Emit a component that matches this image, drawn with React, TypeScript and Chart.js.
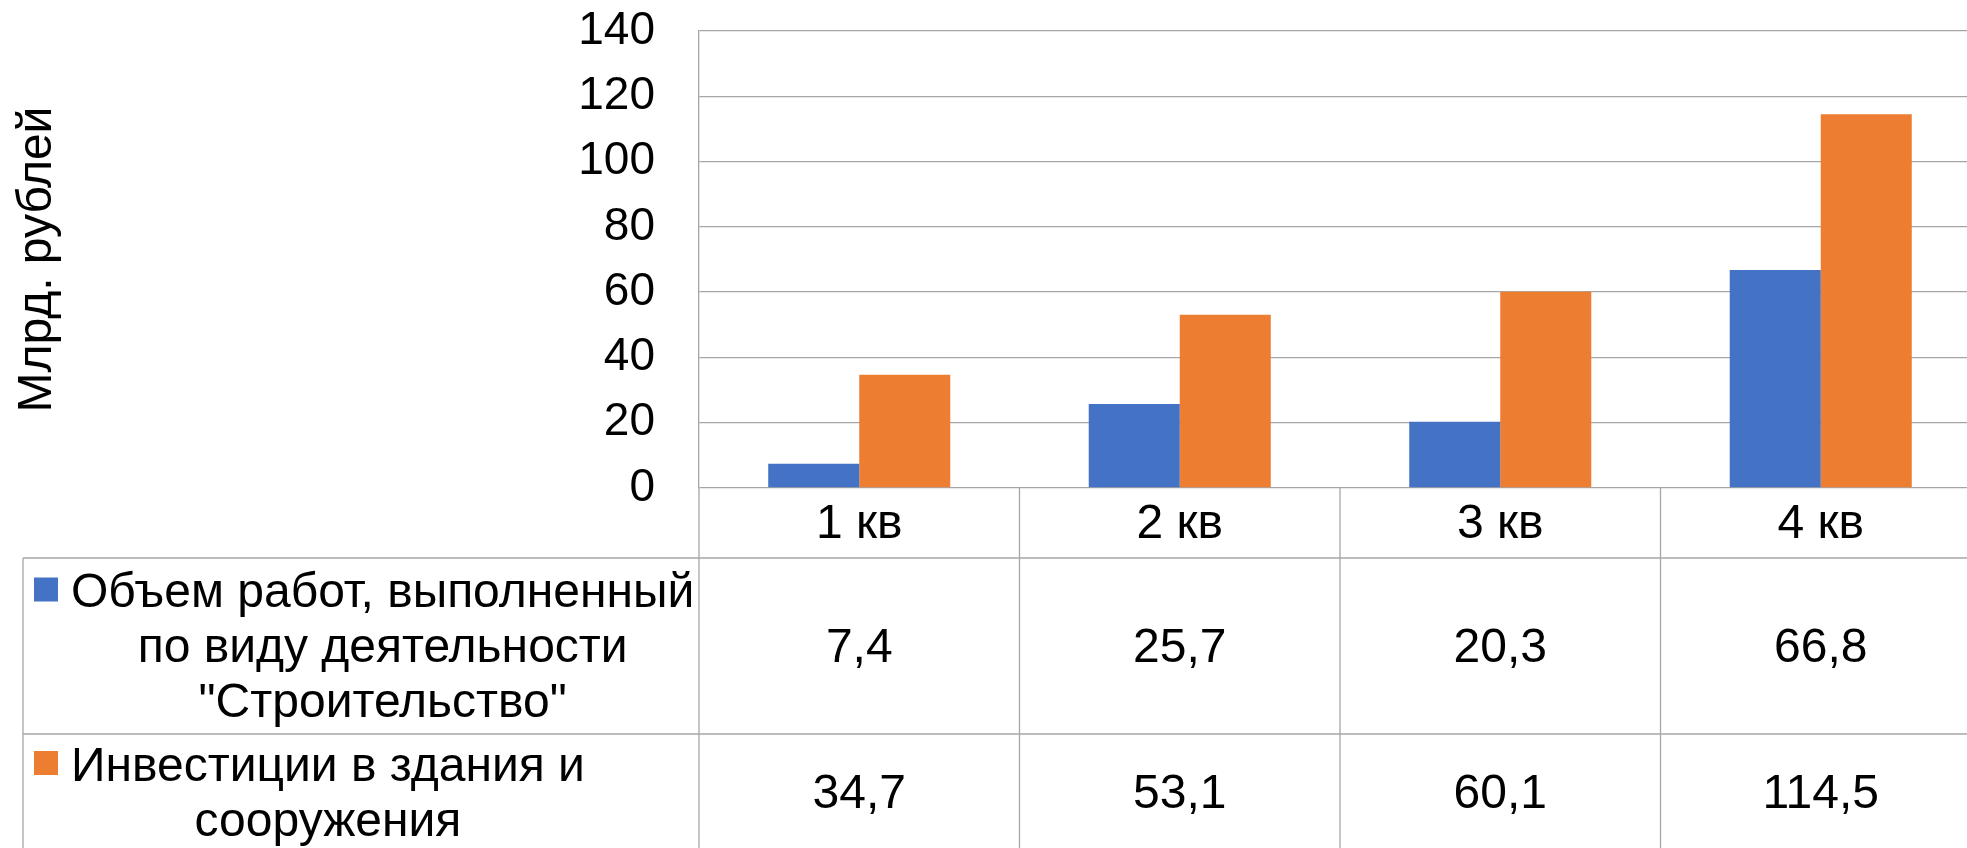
import React, { useEffect, useRef } from "react";
import { Chart, registerables } from "chart.js";

Chart.register(...registerables);

// ---- data ----
const categories = ["1 кв", "2 кв", "3 кв", "4 кв"];
const seriesNames = [
  'Объем работ, выполненный по виду деятельности "Строительство"',
  "Инвестиции в здания и сооружения",
];
const seriesLabelLines = [
  ["Объем работ, выполненный", "по виду деятельности", '"Строительство"'],
  ["Инвестиции в здания и", "сооружения"],
];
const worksVolume = [7.4, 25.7, 20.3, 66.8];
const investments = [34.7, 53.1, 60.1, 114.5];
const seriesColors = ["#4472C4", "#ED7D31"];
const yAxisTitle = "Млрд. рублей";
const yMin = 0;
const yMax = 140;
const yStep = 20;

const FONT = "'Liberation Sans', Arial, sans-serif";
const GRID = "#a6a6a6";

const formatValue = (v: number) => v.toFixed(1).replace(".", ",");

const tablePlugin = {
  id: "dataTable",
  afterDraw(chart: any) {
    const { ctx } = chart;
    const xs = chart.scales.x;
    const ys = chart.scales.y;
    const n = categories.length;
    const step = xs.getPixelForValue(1) - xs.getPixelForValue(0);
    const zeroY = ys.getPixelForValue(0);
    const bottom = chart.height;
    const catRowBottom = zeroY + 70;
    const rowHeights = [176, 116];
    const tableLeft = 23;
    const right = chart.width;
    const series = [worksVolume, investments];

    ctx.save();
    ctx.strokeStyle = GRID;
    ctx.lineWidth = 1.3;
    for (let i = 0; i <= n; i++) {
      const bx = xs.getPixelForValue(i) - step / 2;
      ctx.beginPath();
      ctx.moveTo(bx, zeroY);
      ctx.lineTo(bx, bottom);
      ctx.stroke();
    }
    ctx.beginPath();
    ctx.moveTo(tableLeft, catRowBottom);
    ctx.lineTo(tableLeft, bottom);
    ctx.stroke();
    let yTop = catRowBottom;
    const rowCenters: number[] = [];
    for (let r = 0; r < rowHeights.length; r++) {
      ctx.beginPath();
      ctx.moveTo(tableLeft, yTop);
      ctx.lineTo(right, yTop);
      ctx.stroke();
      rowCenters.push(yTop + rowHeights[r] / 2);
      yTop += rowHeights[r];
    }

    ctx.fillStyle = "#000";
    ctx.textBaseline = "alphabetic";
    const lineGap = 55;
    for (let r = 0; r < series.length; r++) {
      const c = rowCenters[r];
      const lines = seriesLabelLines[r];
      const L = lines.length;
      ctx.font = `48px ${FONT}`;
      const maxW = Math.max(...lines.map((l) => ctx.measureText(l).width));
      const textStart = 71;
      const cx = textStart + maxW / 2;
      ctx.textAlign = "center";
      lines.forEach((l, k) => {
        const by = c + 16 + (k - (L - 1) / 2) * lineGap;
        ctx.fillText(l, cx, by);
      });
      const firstBase = c + 16 - ((L - 1) / 2) * lineGap;
      ctx.fillStyle = seriesColors[r];
      ctx.fillRect(34, firstBase - 17.5 - 12, 24, 24);
      ctx.fillStyle = "#000";
      ctx.font = `48px ${FONT}`;
      series[r].forEach((v, i) => {
        ctx.fillText(formatValue(v), xs.getPixelForValue(i), c + 16);
      });
    }
    ctx.restore();
  },
};

export default function App() {
  const canvasRef = useRef<HTMLCanvasElement>(null);

  useEffect(() => {
    if (!canvasRef.current) return;
    const chart = new Chart(canvasRef.current, {
      type: "bar",
      data: {
        labels: categories,
        datasets: [
          {
            label: seriesNames[0],
            data: worksVolume,
            backgroundColor: seriesColors[0],
            barPercentage: 1,
            categoryPercentage: 0.568,
          },
          {
            label: seriesNames[1],
            data: investments,
            backgroundColor: seriesColors[1],
            barPercentage: 1,
            categoryPercentage: 0.568,
          },
        ],
      },
      options: {
        animation: false,
        responsive: true,
        maintainAspectRatio: false,
        layout: { padding: { top: 31, left: 0, right: 0, bottom: 0 } },
        plugins: {
          legend: { display: false },
          tooltip: { enabled: false },
        },
        scales: {
          x: {
            grid: { display: false, drawTicks: false },
            border: { display: false },
            ticks: {
              color: "#000",
              font: { family: FONT, size: 48 },
              padding: 8,
              maxRotation: 0,
              autoSkip: false,
            },
            afterFit: (s: any) => {
              s.height = 360;
            },
          },
          y: {
            min: yMin,
            max: yMax,
            grid: { color: GRID, lineWidth: 1.3, drawTicks: false },
            border: { display: true, color: GRID, width: 1.3 },
            ticks: {
              stepSize: yStep,
              color: "#000",
              font: { family: FONT, size: 46 },
              padding: 44,
            },
            title: {
              display: true,
              text: yAxisTitle,
              color: "#000",
              font: { family: FONT, size: 48 },
              padding: { top: 9, bottom: 0 },
            },
            afterFit: (s: any) => {
              s.width = 699;
              s.paddingTop = 0;
              s.paddingBottom = 0;
            },
          },
        },
      },
      plugins: [tablePlugin],
    });
    return () => chart.destroy();
  }, []);

  return (
    <div
      style={{
        position: "fixed",
        left: 0,
        top: 0,
        width: 1967,
        height: 848,
        overflow: "hidden",
        background: "#fff",
      }}
    >
      <div style={{ position: "relative", width: 1981, height: 848 }}>
        <canvas ref={canvasRef} />
      </div>
    </div>
  );
}
